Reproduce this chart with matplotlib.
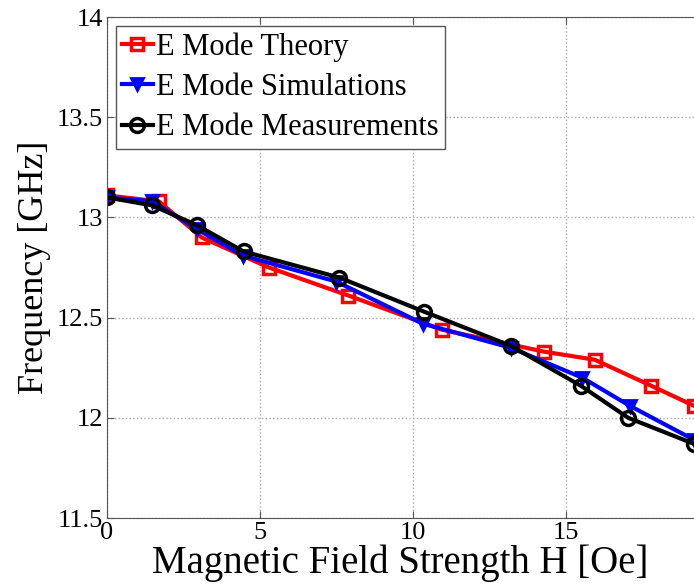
import matplotlib.pyplot as plt

# field strength [Oe] and resonance frequency [GHz] per data set
h_theory = [0, 1.7, 3.1, 5.3, 7.9, 10.95, 14.3, 15.95, 17.8, 19.2]
f_theory = [13.11, 13.08, 12.90, 12.75, 12.61, 12.44, 12.33, 12.29, 12.16, 12.06]

h_sim = [0, 1.48, 2.96, 4.44, 7.5, 10.33, 13.2, 15.55, 17.1, 19.2]
f_sim = [13.10, 13.08, 12.94, 12.81, 12.68, 12.47, 12.35, 12.20, 12.06, 11.89]

h_meas = [0, 1.48, 2.96, 4.47, 7.6, 10.37, 13.2, 15.5, 17.05, 19.2]
f_meas = [13.10, 13.06, 12.96, 12.83, 12.70, 12.53, 12.36, 12.16, 12.00, 11.87]

plt.rcParams["font.family"] = ["Liberation Serif", "DejaVu Serif"]

fig = plt.figure(figsize=(6.94, 5.87), dpi=100)
ax = fig.add_axes([0.154, 0.1175, 0.846, 0.8535])

ax.plot(h_theory, f_theory, "-s", color="red", lw=3, ms=9, mfc="none",
        mew=2.5, label="E Mode Theory")
ax.plot(h_sim, f_sim, "-v", color="blue", lw=3, ms=9, mfc="blue",
        mew=2, label="E Mode Simulations")
ax.plot(h_meas, f_meas, "-o", color="black", lw=3, ms=10, mfc="none",
        mew=2.5, label="E Mode Measurements")

ax.set_xlim(0, 19.2)
ax.set_ylim(11.5, 14)
ax.set_xticks([0, 5, 10, 15])
ax.set_yticks([11.5, 12, 12.5, 13, 13.5, 14])
ax.set_yticklabels(["11.5", "12", "12.5", "13", "13.5", "14"])
ax.tick_params(direction="in", labelsize=19, top=True, length=5,
               color="#555555", pad=3)
ax.grid(True, linestyle=":", color="#aaaaaa", lw=1)
ax.spines["right"].set_visible(False)
for s in ("left", "top", "bottom"):
    ax.spines[s].set_color("#555555")

ax.set_xlabel("Magnetic Field Strength H [Oe]", fontsize=28, labelpad=0)
ax.set_ylabel("Frequency [GHz]", fontsize=26, labelpad=4)

leg = ax.legend(loc="upper left", fontsize=22, handlelength=1.0,
                handletextpad=0.1, borderpad=0.2, labelspacing=0.37,
                fancybox=False, framealpha=1, edgecolor="#555555",
                borderaxespad=0.3)
leg.get_frame().set_linewidth(1)

fig.savefig("out.png", dpi=100)
